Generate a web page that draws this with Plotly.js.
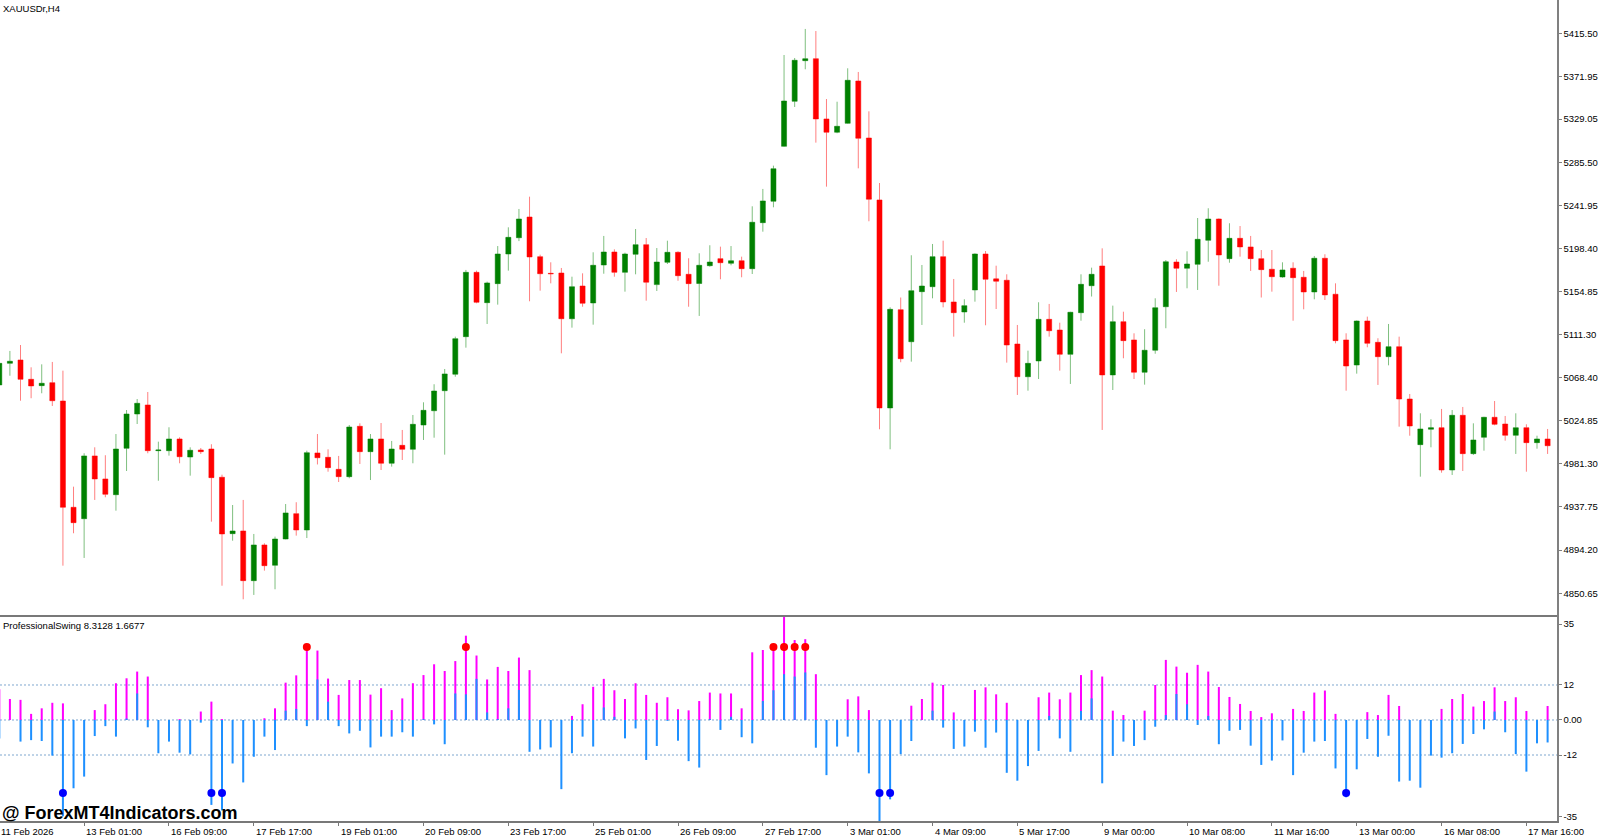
<!DOCTYPE html>
<html>
<head>
<meta charset="utf-8">
<script src="https://cdn.plot.ly/plotly-3.0.1.min.js"></script>
<style>
html,body{margin:0;padding:0;background:#fff;}
#chart{width:1600px;height:838px;}
</style>
</head>
<body>
<div id="chart"></div>
<script>
// ---- XAUUSDr H4 candles ----
const open = [5060.8,5082.6,5086.0,5066.5,5060.1,5063.1,5044.6,4937.4,4925.9,4989.2,4966.0,4950.1,4996.9,5031.5,5040.6,4994.5,4994.5,5006.3,4988.1,4995.2,4996.2,4967.7,4910.8,4913.5,4863.4,4899.4,4878.9,4905.4,4931.0,4914.5,4992.2,4987.8,4975.7,4968.3,5019.1,4993.5,5006.3,4981.8,4999.9,4995.9,5020.4,5034.8,5055.0,5071.6,5109.5,5174.4,5143.8,5163.0,5192.9,5209.3,5230.2,5190.2,5173.4,5173.7,5127.6,5160.6,5143.5,5181.8,5194.9,5174.4,5192.6,5202.3,5162.0,5184.5,5194.6,5172.4,5163.1,5181.1,5188.2,5183.5,5186.1,5178.1,5224.5,5246.1,5301.5,5346.9,5387.9,5389.9,5329.1,5315.7,5324.7,5367.4,5309.9,5247.4,5037.6,5136.7,5104.4,5154.9,5159.9,5190.2,5144.5,5134.4,5156.6,5192.9,5167.8,5166.4,5102.1,5069.1,5085.0,5127.0,5116.2,5091.7,5133.7,5160.9,5180.8,5070.9,5124.6,5106.2,5073.6,5095.8,5139.7,5184.8,5178.5,5182.5,5206.7,5228.2,5188.2,5208.7,5200.0,5188.2,5177.5,5169.7,5178.5,5169.4,5154.6,5188.6,5152.3,5106.2,5080.9,5125.3,5103.8,5089.3,5099.4,5046.6,5000.6,5016.1,5017.7,4975.0,5030.2,4991.5,5008.0,5028.2,5021.4,5010.0,5017.7,5002.6,5006.3];
const high = [5090.0,5095.1,5101.1,5078.6,5081.6,5084.0,5075.2,4958.2,4991.9,4997.9,4989.9,5011.3,5035.5,5046.6,5053.7,5003.6,5018.1,5008.0,4997.9,4997.2,5001.0,4970.3,4939.7,4944.8,4910.5,4901.1,4907.8,4940.7,4942.5,4994.5,5011.3,4995.9,4989.2,5020.4,5022.1,5011.3,5022.4,5004.3,5015.4,5030.5,5043.3,5061.5,5076.9,5109.5,5176.8,5176.1,5165.0,5200.9,5219.8,5238.3,5250.7,5192.2,5184.5,5178.8,5170.0,5173.4,5194.6,5211.1,5197.6,5194.2,5218.1,5209.0,5198.9,5206.3,5195.6,5188.6,5193.6,5201.7,5200.3,5200.9,5190.2,5241.0,5258.5,5282.0,5393.6,5390.6,5419.9,5417.8,5349.2,5346.5,5380.2,5376.5,5336.8,5264.5,5139.1,5149.0,5191.6,5181.8,5203.0,5206.3,5167.7,5147.2,5193.5,5195.9,5181.1,5172.4,5121.3,5095.4,5144.2,5142.5,5123.6,5134.6,5172.4,5179.1,5198.6,5140.8,5134.7,5112.9,5117.0,5148.2,5186.8,5187.6,5195.6,5229.2,5239.0,5228.7,5223.9,5221.1,5211.1,5196.9,5196.9,5184.5,5184.5,5175.8,5190.9,5192.6,5163.3,5112.9,5125.8,5129.7,5107.9,5122.3,5109.5,5051.7,5032.2,5026.2,5036.6,5035.5,5038.6,5022.1,5028.7,5044.6,5029.5,5032.2,5021.1,5009.6,5016.4];
const low = [5055.7,5070.1,5044.9,5047.4,5052.4,5039.6,4878.5,4911.2,4886.3,4944.8,4947.5,4934.0,4974.0,5021.4,4991.9,4964.2,4989.5,4981.8,4969.3,4991.2,4922.9,4858.3,4903.7,4844.6,4849.0,4873.5,4854.7,4905.1,4908.8,4906.4,4980.6,4973.3,4962.9,4966.7,4981.1,4964.9,4975.0,4978.4,4985.1,4981.8,5005.3,5007.6,4990.5,5069.1,5098.4,5143.2,5122.3,5141.8,5176.1,5205.9,5145.2,5155.9,5163.3,5092.7,5118.6,5139.7,5121.6,5173.0,5170.0,5154.9,5172.4,5145.8,5155.6,5182.8,5165.9,5139.7,5130.4,5180.1,5167.4,5181.5,5169.4,5172.7,5215.4,5240.0,5301.1,5341.2,5379.2,5305.2,5260.8,5314.7,5324.3,5279.3,5225.9,5016.1,4995.9,5083.7,5084.3,5121.3,5148.2,5139.1,5109.5,5123.6,5144.8,5121.0,5137.4,5083.3,5050.7,5055.0,5066.8,5109.5,5075.2,5061.8,5125.6,5150.0,5015.4,5055.7,5087.7,5066.8,5061.1,5092.3,5118.0,5154.6,5158.3,5156.6,5185.1,5160.9,5184.1,5190.2,5175.8,5149.0,5154.9,5169.0,5125.6,5137.1,5147.2,5146.5,5102.8,5055.0,5072.2,5098.8,5060.8,5080.6,5018.7,5009.6,4968.3,4997.9,4972.3,4970.0,4974.0,4990.2,4994.5,5020.1,5004.6,4991.2,4973.3,4996.5,4991.2];
const close = [5082.6,5084.7,5066.5,5059.8,5062.5,5044.9,4937.4,4921.9,4989.2,4966.0,4950.5,4996.2,5031.5,5042.3,4994.5,4995.2,5006.3,4988.4,4994.9,4993.5,4967.3,4910.5,4913.5,4863.4,4899.4,4878.5,4905.4,4931.7,4914.5,4992.5,4987.4,4977.4,4968.3,5018.4,4993.5,5006.3,4981.8,4996.2,4995.9,5021.1,5035.2,5054.7,5071.9,5107.5,5174.4,5144.2,5163.7,5192.9,5209.7,5228.2,5189.9,5173.0,5173.0,5127.6,5159.9,5143.2,5181.5,5194.9,5174.4,5192.9,5202.3,5164.4,5184.8,5194.6,5171.0,5163.0,5181.5,5184.8,5184.1,5186.1,5178.1,5224.9,5246.4,5278.9,5347.2,5388.3,5389.9,5329.1,5315.7,5321.7,5368.1,5309.6,5248.1,5037.6,5137.1,5087.3,5155.9,5160.6,5190.2,5144.5,5133.7,5140.8,5192.9,5167.4,5165.4,5101.1,5069.1,5082.6,5127.0,5115.5,5091.7,5134.1,5162.3,5172.4,5070.9,5124.6,5105.5,5073.6,5095.8,5138.7,5185.1,5178.5,5182.8,5207.7,5228.2,5191.9,5208.7,5200.0,5188.2,5177.1,5170.0,5176.8,5169.0,5154.6,5188.6,5151.6,5105.5,5079.9,5125.3,5102.8,5089.3,5099.4,5046.6,5019.4,5016.4,5017.7,4975.0,5030.2,4991.5,5005.3,5028.2,5021.1,5010.0,5017.7,5002.6,5006.3,4999.5];

// ---- ProfessionalSwing indicator ----
const swingUp = [10.5,7.2,6.9,2.1,4.0,5.9,5.7,0,0,3.4,5.4,12.6,14.3,16.6,14.9,0,0,0.3,0,2.9,6.3,0.3,0,0,0,0.6,4.0,12.8,15.3,24.0,23.8,14.2,8.6,13.7,13.7,8.7,10.9,3.4,7.4,12.6,15.4,19.1,16.8,20.2,28.9,22.1,13.9,18.2,16.8,21.4,17.1,0,0,0,1.4,5.4,11.4,14.1,10.2,7.2,12.6,8.6,5.9,7.8,3.7,3.3,6.5,9.4,9.1,9.1,4.0,23.2,24.0,25.7,36.0,27.4,27.7,15.7,0,0,7.1,8.1,3.4,0,0,0,4.9,7.2,12.8,12.0,2.6,0,10.3,11.2,8.8,5.9,0,0,7.8,9.4,7.1,9.4,15.4,17.1,14.9,3.2,1.7,0,3.2,12.0,20.6,18.3,16.2,18.9,16.6,11.3,7.9,5.5,3.1,1.0,2.3,0,3.8,3.1,9.4,10.1,2.1,0,0,2.7,1.7,8.6,4.8,0,0,0,3.8,7.2,8.9,4.6,6.5,11.2,6.5,7.8,3.1,0,4.8];
const swingDown = [-6.3,0,-7.4,-6.9,-7.2,-12.2,-33,-23.4,-19.4,-5.5,-2.1,-5.7,0.5,9.1,-2.5,-11.4,-7.4,-11.2,-11.8,-0.9,-29.1,-31,-14.9,-21.4,-12.6,-5.7,-10.3,3.2,3.8,-2.1,13.9,6.3,-2.1,-4.6,-3.7,-9.4,-5.7,-5.7,-4.2,-5.7,0.3,-1.5,-8.3,9.1,8.8,14.1,2.6,0.3,4.0,10.3,-10.9,-10.1,-9.4,-23.7,-11.4,-5.7,-9.1,4.3,1.1,-6.3,-2.9,-13.7,-8.9,-0.3,-7.1,-14.1,-16.3,0.3,-3.4,1.1,-5.9,-8.0,6.5,10.2,15.7,14.9,16.3,-9.5,-18.9,-9.1,-5.7,-11.1,-18.3,-36,-27.2,-11.7,-7.2,0,3.2,-2.6,-9.9,-9.1,-4.0,-9.5,-4.3,-18.1,-20.8,-15.8,-10.6,1.4,-6.3,-10.9,3.1,7.4,-21.7,-12.3,-7.4,-8.9,-6.9,-2.3,1.7,8.9,5.4,-1.7,1.4,-8.3,-3.7,-3.4,-8.8,-15.4,-13.9,-7.0,-18.9,-11.2,-7.4,-7.2,-16.6,-26.5,-16.9,-6.5,-12.6,-5.4,-21.1,-20.8,-23.2,-12.2,-12.9,-11.4,-8.2,-4.8,-3.2,2.9,-4.2,-11.7,-17.7,-8.0,-7.7];
const topSignalBars = [29,44,73,74,75,76];
const bottomSignalBars = [6,20,21,83,84,127];
const signalLevel = 25;
const swingLevels = [12,0,-12];

// ---- axis labels ----
const priceTicks = [5415.50,5371.95,5329.05,5285.50,5241.95,5198.40,5154.85,5111.30,5068.40,5024.85,4981.30,4937.75,4894.20,4850.65];
const swingTickText = ['35','12','0.00','-12','-35'];
const timeTickBars = [0,8,16,24,32,40,48,56,64,72,80,88,96,104,112,120,128,136,144];
const timeTickText = ['11 Feb 2026','13 Feb 01:00','16 Feb 09:00','17 Feb 17:00','19 Feb 01:00','20 Feb 09:00','23 Feb 17:00','25 Feb 01:00','26 Feb 09:00','27 Feb 17:00','3 Mar 01:00','4 Mar 09:00','5 Mar 17:00','9 Mar 00:00','10 Mar 08:00','11 Mar 16:00','13 Mar 00:00','16 Mar 08:00','17 Mar 16:00'];

const bars = open.map((_, i) => i);
const FONT = 'Liberation Sans, Arial, sans-serif';
const SEP = 0.2497;
const X0 = 0.066, X1 = 146.886;

const traces = [
  {
    type: 'candlestick', x: bars, open: open, high: high, low: low, close: close,
    xaxis: 'x', yaxis: 'y',
    increasing: {line: {color: 'rgba(0,128,0,0.5)', width: 1}, fillcolor: '#008000'},
    decreasing: {line: {color: 'rgba(255,0,0,0.5)', width: 1}, fillcolor: '#FF0000'},
    whiskerwidth: 0, hoverinfo: 'skip'
  },
  {
    type: 'bar', x: bars, y: swingUp, xaxis: 'x', yaxis: 'y2', width: 0.19,
    marker: {color: '#FF00FF', line: {width: 0}}, hoverinfo: 'skip'
  },
  {
    type: 'bar', x: bars, y: swingDown, xaxis: 'x', yaxis: 'y2', width: 0.19,
    marker: {color: '#1E90FF', line: {width: 0}}, hoverinfo: 'skip'
  },
  {
    type: 'scatter', mode: 'markers', x: topSignalBars, y: topSignalBars.map(() => signalLevel),
    xaxis: 'x', yaxis: 'y2', marker: {color: '#FF0000', size: 8}, hoverinfo: 'skip', cliponaxis: false
  },
  {
    type: 'scatter', mode: 'markers', x: bottomSignalBars, y: bottomSignalBars.map(() => -signalLevel),
    xaxis: 'x', yaxis: 'y2', marker: {color: '#0000FF', size: 8}, hoverinfo: 'skip', cliponaxis: false
  }
];

const shapes = swingLevels.map(v => ({
  type: 'line', xref: 'paper', x0: 0, x1: 1, yref: 'y2', y0: v, y1: v,
  line: {color: '#7FA7CF', width: 1, dash: '2px,2px'}, layer: 'below'
}));
shapes.push({type: 'line', xref: 'paper', x0: 0, x1: 1, yref: 'paper', y0: SEP, y1: SEP,
  line: {color: '#787878', width: 2}});

const annotations = timeTickBars.map((b, k) => ({
  xref: 'x', x: Math.max(b, X0 + 0.01), yref: 'paper', y: 0, xanchor: 'left', yanchor: 'top', yshift: -3,
  xshift: b < X0 ? -1 : 0,
  text: timeTickText[k], showarrow: false, font: {family: FONT, size: 9.5, color: '#000'}
}));
annotations.push({xref: 'paper', x: 0, yref: 'paper', y: 1, xanchor: 'left', yanchor: 'top', xshift: 1, yshift: -1,
  text: 'XAUUSDr,H4', showarrow: false, font: {family: FONT, size: 9.5, color: '#000'}});
annotations.push({xref: 'paper', x: 0, yref: 'paper', y: SEP, xanchor: 'left', yanchor: 'top', xshift: 1, yshift: -2,
  text: 'ProfessionalSwing 8.3128 1.6677', showarrow: false, font: {family: FONT, size: 9.5, color: '#000'}});
annotations.push({xref: 'paper', x: 0, yref: 'paper', y: 0.0101, xanchor: 'left', yanchor: 'middle', xshift: 0,
  text: '<b>@ ForexMT4Indicators.com</b>', showarrow: false, font: {family: FONT, size: 18, color: '#000'}});

const layout = {
  width: 1600, height: 838,
  margin: {l: 0, r: 43, t: 0, b: 17, pad: 0},
  paper_bgcolor: '#fff', plot_bgcolor: '#fff',
  showlegend: false, barmode: 'overlay', boxgap: 0.32, hovermode: false,
  xaxis: {
    type: 'linear', range: [X0, X1], anchor: 'y2',
    rangeslider: {visible: false}, showgrid: false, zeroline: false,
    showline: true, linecolor: '#787878', linewidth: 2,
    tickmode: 'array', tickvals: timeTickBars, ticks: 'outside', ticklen: 3,
    tickcolor: '#787878', showticklabels: false, fixedrange: true
  },
  yaxis: {
    domain: [SEP, 1], range: [4827.75, 5449.09], side: 'right', anchor: 'x',
    showgrid: false, zeroline: false, showline: true, linecolor: '#808080', linewidth: 1.5,
    tickmode: 'array', tickvals: priceTicks, tickformat: '.2f',
    ticks: 'outside', ticklen: 3, tickcolor: '#808080',
    tickfont: {family: FONT, size: 9.5, color: '#000'}, fixedrange: true
  },
  yaxis2: {
    domain: [0, SEP], range: [-34.62, 35.65], side: 'right', anchor: 'x',
    showgrid: false, zeroline: false, showline: true, linecolor: '#808080', linewidth: 1.5,
    tickmode: 'array', tickvals: [32.9, 12, 0, -12, -33.2], ticktext: swingTickText,
    ticks: 'outside', ticklen: 3, tickcolor: '#808080',
    tickfont: {family: FONT, size: 9.5, color: '#000'}, fixedrange: true
  },
  shapes: shapes,
  annotations: annotations
};

Plotly.newPlot('chart', traces, layout, {staticPlot: true, displayModeBar: false});
</script>
</body>
</html>
